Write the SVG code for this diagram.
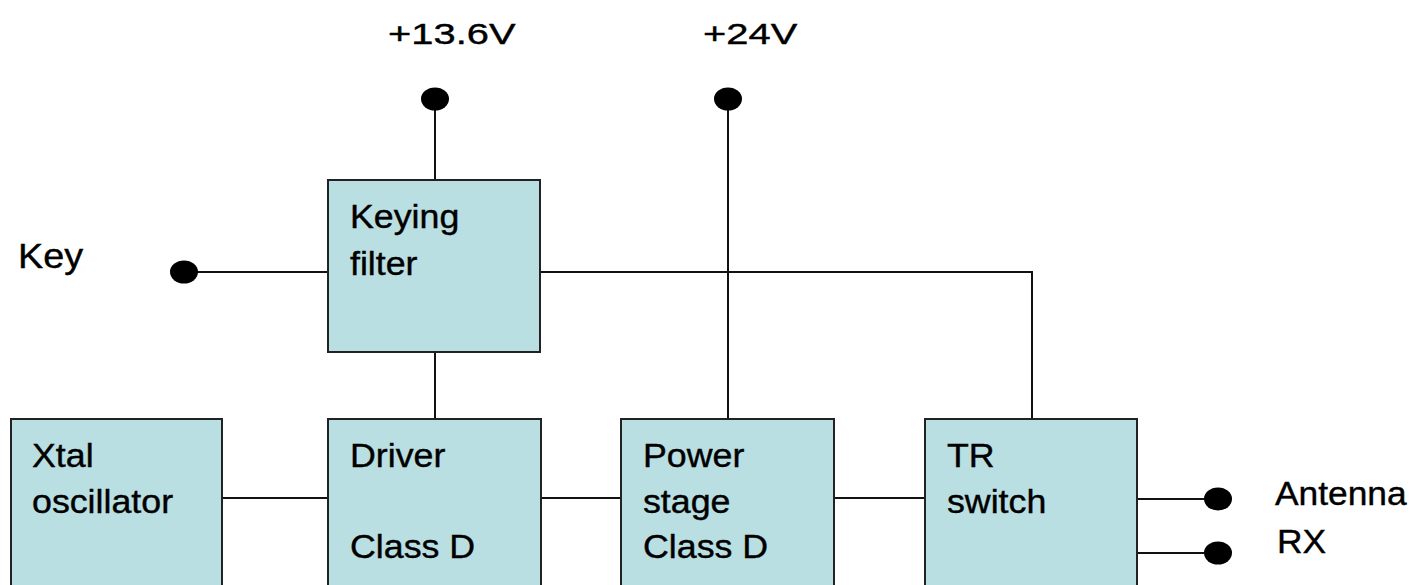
<svg xmlns="http://www.w3.org/2000/svg" width="1411" height="585" viewBox="0 0 1411 585">
<style>
.box{fill:#b9dfe3;stroke:#222;stroke-width:2}
.ln{stroke:#111;stroke-width:2;fill:none}
.dot{fill:#000}
text{font-family:"Liberation Sans",Arial,sans-serif;font-size:32.5px;fill:#000;stroke:#000;stroke-width:0.4}
.v{font-size:30px}
.k{font-size:35px}
.a{font-size:34px}
</style>
<rect width="1411" height="585" fill="#fff"/>
<g id="connectors">
<line class="ln" x1="222" y1="498" x2="328" y2="498"/>
<line class="ln" x1="541" y1="498" x2="621" y2="498"/>
<line class="ln" x1="834" y1="498" x2="925" y2="498"/>
<line class="ln" x1="435" y1="352" x2="435" y2="419"/>
<line class="ln" x1="435" y1="99" x2="435" y2="180"/>
<line class="ln" x1="728" y1="99" x2="728" y2="419"/>
<line class="ln" x1="184" y1="272" x2="328" y2="272"/>
<polyline class="ln" points="540,272 1032,272 1032,419"/>
<line class="ln" x1="1137" y1="499" x2="1218" y2="499"/>
<line class="ln" x1="1137" y1="553" x2="1218" y2="553"/>
</g>
<g id="terminals">
<ellipse class="dot" cx="435" cy="99" rx="14" ry="11.5"/>
<ellipse class="dot" cx="728" cy="99" rx="14" ry="11.5"/>
<ellipse class="dot" cx="184" cy="272" rx="14" ry="11.5"/>
<ellipse class="dot" cx="1218" cy="499" rx="14" ry="11.5"/>
<ellipse class="dot" cx="1218" cy="553" rx="14" ry="11.5"/>
</g>
<g id="labels">
<text class="v" transform="matrix(1.33 0 0 1 388 44)">+13.6V</text>
<text class="v" transform="matrix(1.33 0 0 1 703 44)">+24V</text>
<text class="k" transform="matrix(1.08 0 0 1 18 268)">Key</text>
<text class="a" transform="matrix(1.04 0 0 1 1275 505)">Antenna</text>
<text class="a" transform="matrix(1.04 0 0 1 1277 553)">RX</text>
</g>
<g id="xtal">
<rect class="box" x="11" y="419" width="211" height="180"/>
<text transform="matrix(1.1 0 0 1 32 467)">Xtal</text>
<text transform="matrix(1.1 0 0 1 32 513)">oscillator</text>
</g>
<g id="keying">
<rect class="box" x="328" y="180" width="212" height="172"/>
<text transform="matrix(1.1 0 0 1 350 228)">Keying</text>
<text transform="matrix(1.1 0 0 1 350 275)">filter</text>
</g>
<g id="driver">
<rect class="box" x="328" y="419" width="213" height="180"/>
<text transform="matrix(1.1 0 0 1 350 467)">Driver</text>
<text transform="matrix(1.1 0 0 1 350 558)">Class D</text>
</g>
<g id="power">
<rect class="box" x="621" y="419" width="213" height="180"/>
<text transform="matrix(1.1 0 0 1 643 467)">Power</text>
<text transform="matrix(1.1 0 0 1 643 513)">stage</text>
<text transform="matrix(1.1 0 0 1 643 558)">Class D</text>
</g>
<g id="trswitch">
<rect class="box" x="925" y="419" width="212" height="180"/>
<text transform="matrix(1.1 0 0 1 947 467)">TR</text>
<text transform="matrix(1.1 0 0 1 947 513)">switch</text>
</g>
</svg>
